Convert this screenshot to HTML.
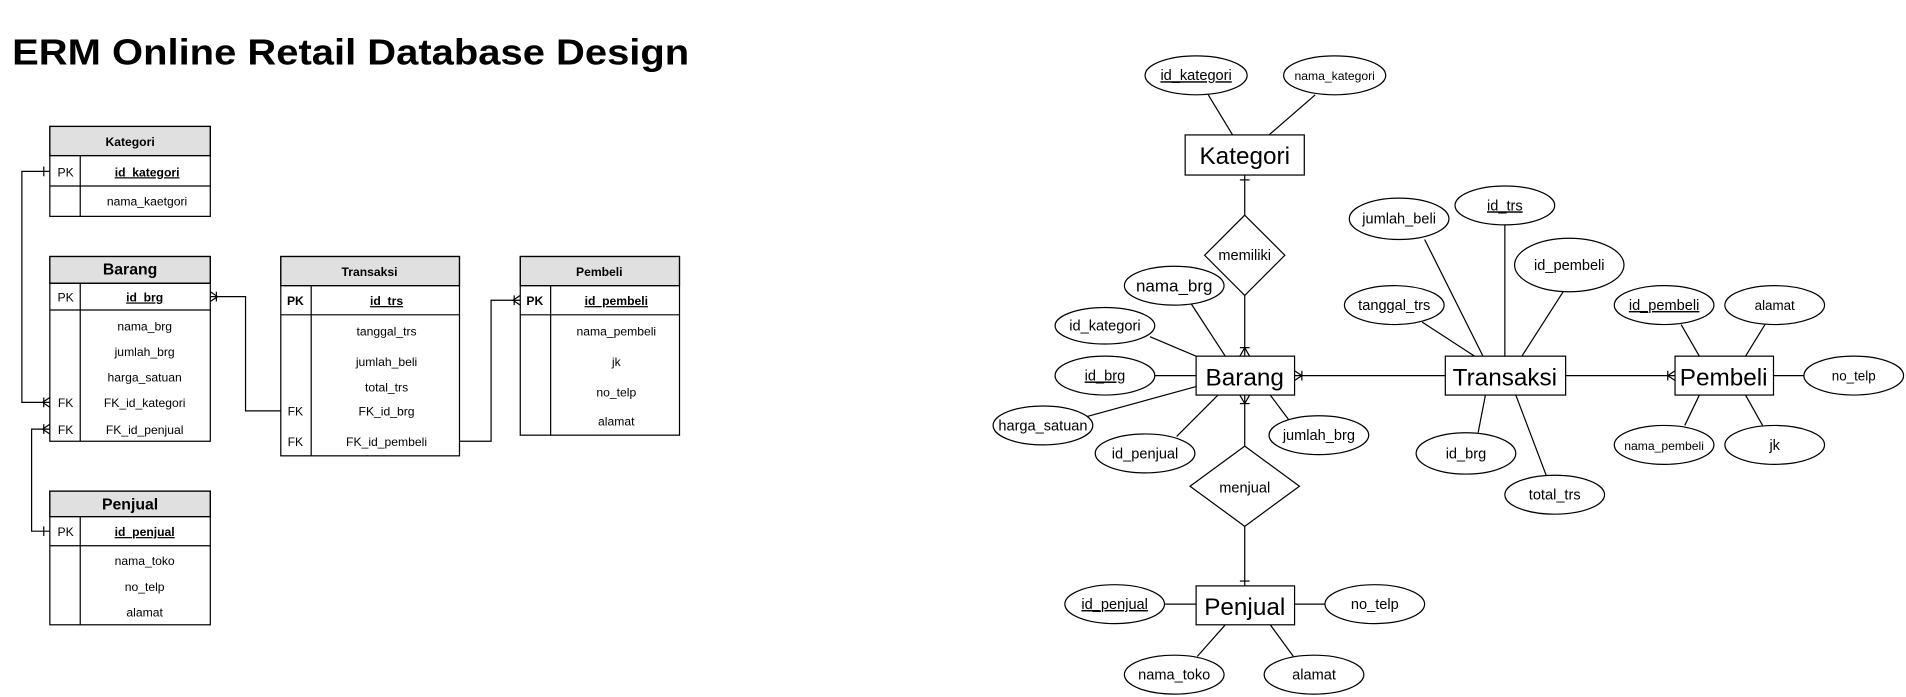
<!DOCTYPE html>
<html><head><meta charset="utf-8"><style>
html,body{margin:0;padding:0;background:#fff;}
svg{display:block;}
text{font-family:"Liberation Sans",Arial,sans-serif;fill:#000;}
</style></head><body>
<svg width="1906" height="697" viewBox="0 0 1568 573.4" xmlns="http://www.w3.org/2000/svg">
<text x="10" y="53" font-size="30" font-weight="bold" textLength="557" lengthAdjust="spacingAndGlyphs">ERM Online Retail Database Design</text>

<g stroke="#000" stroke-width="1" fill="none">
<!-- Kategori table -->
<rect x="41" y="104" width="132" height="24" fill="#e0e0e0"/>
<rect x="41" y="104" width="132" height="74"/>
<line x1="41" y1="128" x2="173" y2="128"/><line x1="41" y1="153" x2="173" y2="153"/>
<line x1="66" y1="128" x2="66" y2="178"/>
<!-- Barang -->
<rect x="41" y="211" width="132" height="22" fill="#e0e0e0"/>
<rect x="41" y="211" width="132" height="152"/>
<line x1="41" y1="233" x2="173" y2="233"/><line x1="41" y1="255" x2="173" y2="255"/>
<line x1="66" y1="233" x2="66" y2="363"/>
<!-- Penjual -->
<rect x="41" y="404" width="132" height="21" fill="#e0e0e0"/>
<rect x="41" y="404" width="132" height="110"/>
<line x1="41" y1="425" x2="173" y2="425"/><line x1="41" y1="449" x2="173" y2="449"/>
<line x1="66" y1="425" x2="66" y2="514"/>
<!-- Transaksi -->
<rect x="231" y="211" width="147" height="24" fill="#e0e0e0"/>
<rect x="231" y="211" width="147" height="164"/>
<line x1="231" y1="235" x2="378" y2="235"/><line x1="231" y1="259" x2="378" y2="259"/>
<line x1="256" y1="235" x2="256" y2="375"/>
<!-- Pembeli -->
<rect x="428" y="211" width="131" height="24" fill="#e0e0e0"/>
<rect x="428" y="211" width="131" height="147"/>
<line x1="428" y1="235" x2="559" y2="235"/><line x1="428" y1="259" x2="559" y2="259"/>
<line x1="453" y1="235" x2="453" y2="358"/>

<!-- connectors left -->
<polyline points="41,141 18,141 18,331 41,331"/>
<line x1="36" y1="137" x2="36" y2="145"/>
<line x1="36" y1="327" x2="36" y2="335"/><polyline points="41,327 35,331 41,335"/>
<polyline points="41,437 26,437 26,353 41,353"/>
<line x1="36" y1="433" x2="36" y2="441"/>
<line x1="36" y1="349" x2="36" y2="357"/><polyline points="41,349 35,353 41,357"/>
<polyline points="173,244 202,244 202,338 231,338"/>
<line x1="178" y1="240" x2="178" y2="248"/><polyline points="173,240 179,244 173,248"/>
<polyline points="378,363 404,363 404,247 428,247"/>
<line x1="423" y1="243" x2="423" y2="251"/><polyline points="428,243 422,247 428,251"/>
</g>

<g font-size="10" text-anchor="middle">
<text x="107" y="120" font-weight="bold">Kategori</text>
<text x="54" y="145">PK</text><text x="121" y="145" font-weight="bold" text-decoration="underline">id_kategori</text>
<text x="121" y="169">nama_kaetgori</text>
<text x="107" y="226" font-weight="bold" font-size="13">Barang</text>
<text x="54" y="248">PK</text><text x="119" y="248" font-weight="bold" text-decoration="underline">id_brg</text>
<text x="119" y="272">nama_brg</text><text x="119" y="293">jumlah_brg</text><text x="119" y="314">harga_satuan</text>
<text x="54" y="335">FK</text><text x="119" y="335">FK_id_kategori</text>
<text x="54" y="357">FK</text><text x="119" y="357">FK_id_penjual</text>
<text x="107" y="419" font-weight="bold" font-size="13">Penjual</text>
<text x="54" y="441">PK</text><text x="119" y="441" font-weight="bold" text-decoration="underline">id_penjual</text>
<text x="119" y="465">nama_toko</text><text x="119" y="486">no_telp</text><text x="119" y="507">alamat</text>
<text x="304" y="227" font-weight="bold">Transaksi</text>
<text x="243" y="251" font-weight="bold">PK</text><text x="318" y="251" font-weight="bold" text-decoration="underline">id_trs</text>
<text x="318" y="276">tanggal_trs</text><text x="318" y="301">jumlah_beli</text><text x="318" y="322">total_trs</text>
<text x="243" y="342">FK</text><text x="318" y="342">FK_id_brg</text>
<text x="243" y="367">FK</text><text x="318" y="367">FK_id_pembeli</text>
<text x="493" y="227" font-weight="bold">Pembeli</text>
<text x="440" y="251" font-weight="bold">PK</text><text x="507" y="251" font-weight="bold" text-decoration="underline">id_pembeli</text>
<text x="507" y="276">nama_pembeli</text><text x="507" y="301">jk</text><text x="507" y="326">no_telp</text><text x="507" y="350">alamat</text>
</g>

<!-- ER diagram -->
<g stroke="#000" stroke-width="1" fill="none">
<line x1="994" y1="78" x2="1014" y2="111"/><line x1="1082" y1="78" x2="1044" y2="111"/>
<line x1="1024" y1="144" x2="1024" y2="177"/><line x1="1020" y1="148" x2="1028" y2="148"/>
<line x1="1024" y1="243" x2="1024" y2="293"/><line x1="1020" y1="286" x2="1028" y2="286"/><polyline points="1020,293 1024,286 1028,293"/>
<line x1="1024" y1="325" x2="1024" y2="367"/><line x1="1020" y1="332" x2="1028" y2="332"/><polyline points="1020,325 1024,332 1028,325"/>
<line x1="1024" y1="433" x2="1024" y2="482"/><line x1="1020" y1="478" x2="1028" y2="478"/>
<line x1="1065" y1="309" x2="1189" y2="309"/><line x1="1071" y1="305" x2="1071" y2="313"/><polyline points="1065,305 1071,309 1065,313"/>
<line x1="1288" y1="309" x2="1378" y2="309"/><line x1="1372" y1="305" x2="1372" y2="313"/><polyline points="1378,305 1372,309 1378,313"/>
<line x1="980" y1="250" x2="1008" y2="293"/><line x1="946" y1="277" x2="984" y2="293"/><line x1="950" y1="309" x2="984" y2="309"/>
<line x1="893" y1="343" x2="984" y2="318"/><line x1="968" y1="359" x2="1002" y2="325"/><line x1="1060" y1="345" x2="1045" y2="325"/>
<line x1="1172" y1="197" x2="1220" y2="293"/><line x1="1238" y1="185" x2="1238" y2="293"/><line x1="1286" y1="240" x2="1252" y2="293"/>
<line x1="1170" y1="265" x2="1213" y2="293"/><line x1="1216" y1="356" x2="1222" y2="325"/><line x1="1272" y1="391" x2="1247" y2="325"/>
<line x1="1383" y1="267" x2="1398" y2="293"/><line x1="1452" y1="267" x2="1436" y2="293"/><line x1="1484" y1="309" x2="1459" y2="309"/>
<line x1="1386" y1="350" x2="1398" y2="325"/><line x1="1450" y1="350" x2="1436" y2="325"/>
<line x1="958" y1="497" x2="984" y2="497"/><line x1="1090" y1="497" x2="1065" y2="497"/>
<line x1="985" y1="540" x2="1008" y2="514"/><line x1="1064" y1="540" x2="1045" y2="514"/>

<rect x="975" y="111" width="98" height="33" fill="#fff"/>
<rect x="984" y="293" width="81" height="32" fill="#fff"/>
<rect x="1189" y="293" width="99" height="32" fill="#fff"/>
<rect x="1378" y="293" width="81" height="32" fill="#fff"/>
<rect x="984" y="482" width="81" height="32" fill="#fff"/>
<polygon points="1024,177 1057,210 1024,243 991,210" fill="#fff"/>
<polygon points="1024,367 1069,400 1024,433 979,400" fill="#fff"/>
<g fill="#fff">
<ellipse cx="984" cy="62" rx="42" ry="16"/><ellipse cx="1098" cy="62" rx="42" ry="16"/>
<ellipse cx="966" cy="235" rx="41" ry="16"/><ellipse cx="909" cy="268" rx="41" ry="15"/>
<ellipse cx="909" cy="309" rx="41" ry="16"/><ellipse cx="858" cy="350" rx="41" ry="16"/>
<ellipse cx="942" cy="373" rx="41" ry="16"/><ellipse cx="1085" cy="358" rx="41" ry="16"/>
<ellipse cx="1151" cy="180" rx="41" ry="17"/><ellipse cx="1238" cy="169" rx="41" ry="16"/>
<ellipse cx="1291" cy="218" rx="45" ry="22"/><ellipse cx="1147" cy="251" rx="41" ry="16"/>
<ellipse cx="1206" cy="373" rx="41" ry="17"/><ellipse cx="1279" cy="407" rx="41" ry="16"/>
<ellipse cx="1369" cy="251" rx="41" ry="16"/><ellipse cx="1460" cy="251" rx="41" ry="16"/>
<ellipse cx="1525" cy="309" rx="41" ry="16"/><ellipse cx="1369" cy="366" rx="41" ry="16"/>
<ellipse cx="1460" cy="366" rx="41" ry="16"/>
<ellipse cx="917" cy="497" rx="41" ry="16"/><ellipse cx="1131" cy="497" rx="41" ry="16"/>
<ellipse cx="966" cy="555" rx="41" ry="16"/><ellipse cx="1081" cy="555" rx="41" ry="16"/>
</g>
</g>

<g text-anchor="middle" font-size="12">
<text x="1024" y="135" font-size="20">Kategori</text>
<text x="1024" y="317" font-size="20">Barang</text>
<text x="1238" y="317" font-size="20">Transaksi</text>
<text x="1418" y="317" font-size="20">Pembeli</text>
<text x="1024" y="506" font-size="20">Penjual</text>
<text x="1024" y="214">memiliki</text>
<text x="1024" y="405">menjual</text>
<text x="984" y="66" text-decoration="underline">id_kategori</text>
<text x="1098" y="66" font-size="10">nama_kategori</text>
<text x="966" y="240" font-size="14">nama_brg</text>
<text x="909" y="272">id_kategori</text>
<text x="909" y="313" text-decoration="underline">id_brg</text>
<text x="858" y="354">harga_satuan</text>
<text x="942" y="377">id_penjual</text>
<text x="1085" y="362">jumlah_brg</text>
<text x="1151" y="184">jumlah_beli</text>
<text x="1238" y="173" text-decoration="underline">id_trs</text>
<text x="1291" y="222">id_pembeli</text>
<text x="1147" y="255">tanggal_trs</text>
<text x="1206" y="377">id_brg</text>
<text x="1279" y="411">total_trs</text>
<text x="1369" y="255" text-decoration="underline">id_pembeli</text>
<text x="1460" y="255" font-size="11">alamat</text>
<text x="1525" y="313" font-size="11">no_telp</text>
<text x="1369" y="370" font-size="10">nama_pembeli</text>
<text x="1460" y="370">jk</text>
<text x="917" y="501" text-decoration="underline">id_penjual</text>
<text x="1131" y="501">no_telp</text>
<text x="966" y="559">nama_toko</text>
<text x="1081" y="559">alamat</text>
</g>
</svg>
</body></html>
